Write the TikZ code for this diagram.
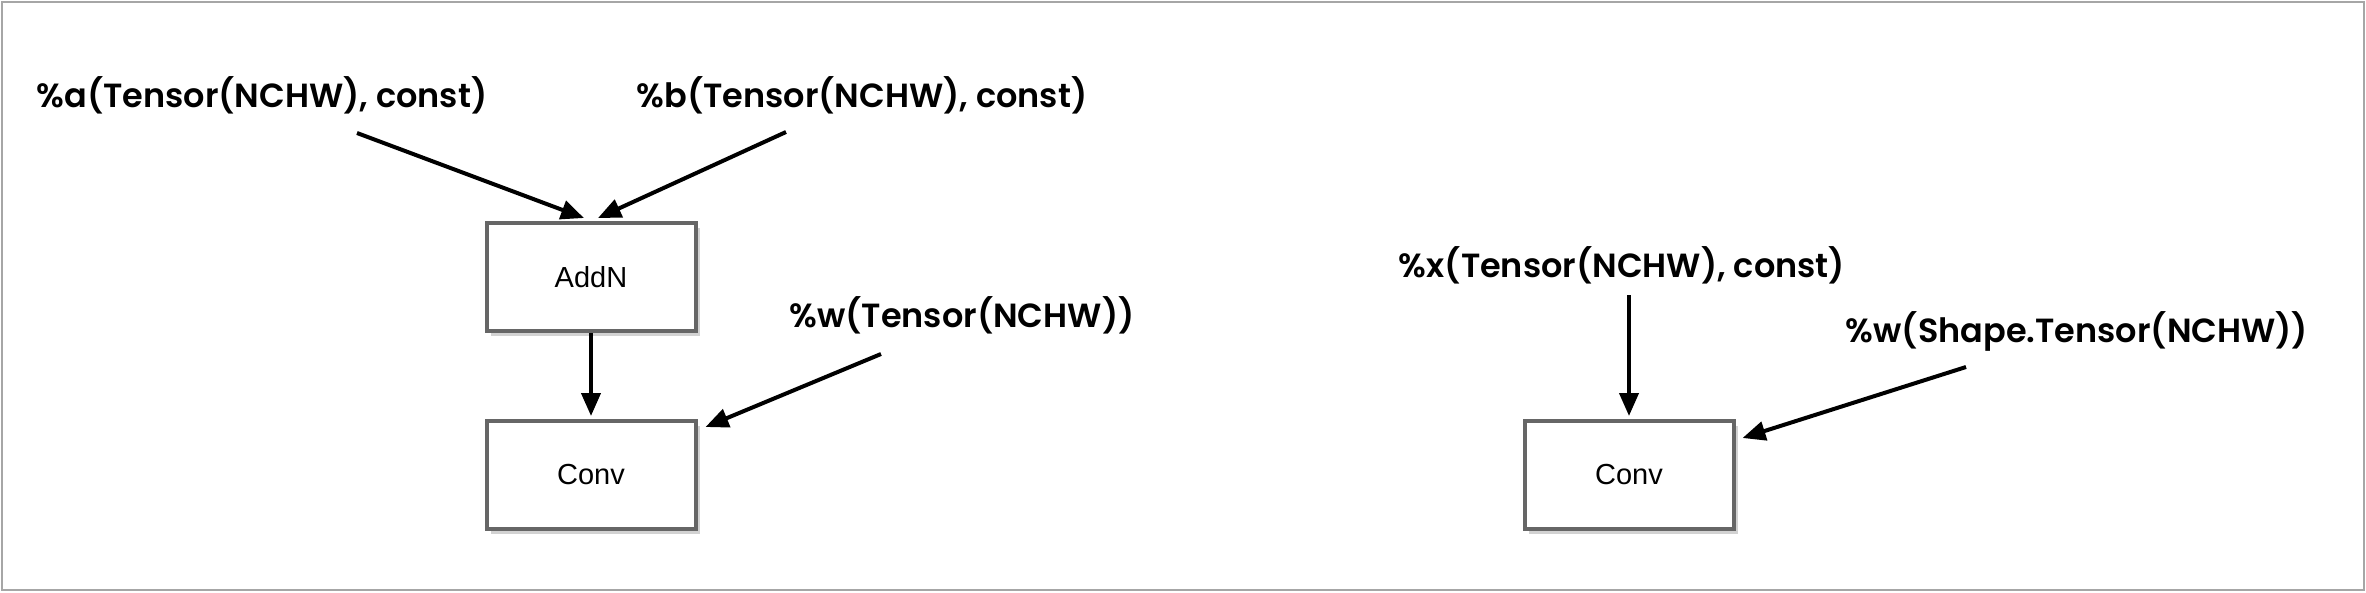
\documentclass[tikz,border=0pt]{standalone}
\usepackage{fontspec}
\setmainfont{Liberation Sans}
\newfontfamily\lblfont{Poppins SemiBold}
\usetikzlibrary{arrows.meta,shadows}

\tikzset{
  op/.style={draw=black!60, line width=4pt, fill=white,
    minimum width=209pt, minimum height=108pt,
    font=\fontsize{29}{29}\selectfont,
    drop shadow={shadow xshift=4pt, shadow yshift=-5pt, fill=black!35}},
  lbl/.style={anchor=base, inner sep=0pt, font=\lblfont\fontsize{33.5}{33.5}\selectfont},
  flow/.style={line width=4pt, -{Triangle[length=23pt,width=19pt]}}
}

\begin{document}
\begin{tikzpicture}[x=1pt, y=-1pt]
	\useasboundingbox (0,0) rectangle (2366,592);
	\draw[black!35, line width=2pt] (2,2) rectangle (2364,590);

	\node[lbl] (la)  at (262, 107)   {\%a(Tensor(NCHW), const)};
	\node[lbl] (lb)  at (862, 107)   {\%b(Tensor(NCHW), const)};
	\node[lbl] (lw)  at (962, 327)   {\%w(Tensor(NCHW))};

	\node[op] (addn) at (591, 277)   {AddN};
	\node[op] (conv) at (591, 475)   {Conv};

	\node[lbl] (lx)  at (1622, 277)  {\%x(Tensor(NCHW), const)};
	\node[lbl] (lws) at (2077, 342)  {\%w(Shape.Tensor(NCHW))};

	\node[op] (convb) at (1629, 475) {Conv};


    \draw[flow] ([xshift=95pt,yshift=-26pt]la.base) -- ([xshift=-7pt,yshift=3pt]addn.north);
    \draw[flow] ([xshift=-76pt,yshift=-25pt]lb.base) -- ([xshift=7pt,yshift=3pt]addn.north);
    \draw[flow] (addn.south) -- ([yshift=3pt]conv.north);
    \draw[flow] ([xshift=-81pt,yshift=-27pt]lw.base) -- ([xshift=8pt,yshift=-8pt]conv.north east);

    \draw[flow] (convb.north) ++(0,-124) -- ([yshift=3pt]convb.north);
    \draw[flow] ([xshift=-111pt,yshift=-25pt]lws.base) -- ([xshift=7pt,yshift=-19pt]convb.north east);
\end{tikzpicture}
\end{document}
